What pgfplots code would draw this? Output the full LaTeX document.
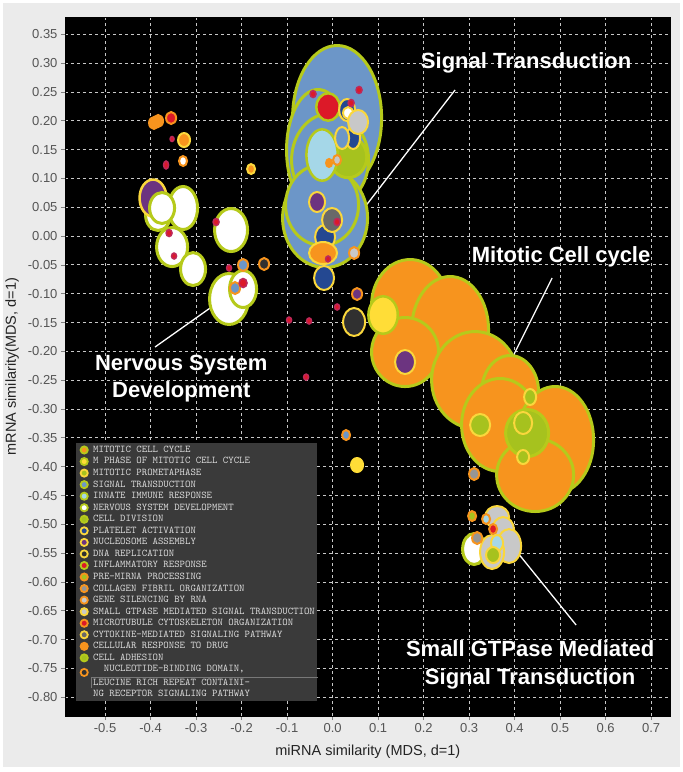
\documentclass[border=0pt]{standalone}
\usepackage{pgfplots}
\pgfplotsset{compat=1.18}
\usepackage{fontspec}
\setmainfont{Liberation Sans}

\definecolor{bgcol}{RGB}{235,235,235}
\definecolor{corange}{RGB}{247,148,30}
\definecolor{cygreen}{RGB}{182,202,27}
\definecolor{cgreenfill}{RGB}{166,194,30}
\definecolor{cyellow}{RGB}{255,221,55}
\definecolor{cyedge}{RGB}{250,215,60}
\definecolor{cblue}{RGB}{108,150,200}
\definecolor{clblue}{RGB}{165,215,232}
\definecolor{cdblue}{RGB}{36,72,145}
\definecolor{cpurple}{RGB}{108,52,128}
\definecolor{cdgray}{RGB}{48,48,48}
\definecolor{cred}{RGB}{220,25,40}
\definecolor{cpink}{RGB}{190,40,90}
\definecolor{cgray}{RGB}{150,150,150}
\definecolor{clgray}{RGB}{200,200,200}
\definecolor{cmgray}{RGB}{105,105,105}
\definecolor{legbg}{RGB}{58,58,58}
\definecolor{legtext}{RGB}{220,220,220}
\definecolor{legline}{RGB}{120,120,120}
\definecolor{gridcol}{RGB}{200,200,200}
\definecolor{ticklab}{RGB}{85,85,85}
\definecolor{labcol}{RGB}{35,35,35}

\pgfdeclareplotmark{bub}{%
  \pgfpathellipse{\pgfpointorigin}{\pgfqpoint{\bubrx pt}{0pt}}{\pgfqpoint{0pt}{\bubry pt}}%
  \pgfusepathqfillstroke}

\pgfplotsset{
  bb/.style n args={3}{scatter, only marks, mark=bub, forget plot,
    visualization depends on={value \thisrow{rx} \as \bubrx},
    visualization depends on={value \thisrow{ry} \as \bubry},
    scatter/use mapped color={draw=#1, fill=#2, line width=#3}},
  lg/.style 2 args={legend image code/.code={%
    \path[draw=none,fill=none] (-5.5pt,-5.775pt) (5.5pt,5.775pt);
    \draw[draw=#1, fill=#2, line width=1.8pt] (0pt,0pt) circle (3.6pt);}},
}

\begin{document}
\begin{tikzpicture}
\fill[white] (0,0) rectangle (683pt,772pt);
\fill[bgcol] (3pt,5pt) rectangle (680pt,769pt);
\begin{axis}[
  at={(65pt,56pt)}, anchor=south west,
  scale only axis, width=605.7pt, height=698.7pt,
  xmin=-0.588, xmax=0.743, ymin=-0.8324, ymax=0.3795,
  axis background/.style={fill=black},
  axis line style={black},
  xtick={-0.5,-0.4,-0.3,-0.2,-0.1,0,0.1,0.2,0.3,0.4,0.5,0.6,0.7},
  ytick={0.35,0.3,0.25,0.2,0.15,0.1,0.05,0,-0.05,-0.1,-0.15,-0.2,-0.25,-0.3,-0.35,-0.4,-0.45,-0.5,-0.55,-0.6,-0.65,-0.7,-0.75,-0.8},
  xtick pos=bottom, ytick pos=left,
  tick align=outside, major tick length=4pt,
  tick style={draw=gray, line width=0.8pt},
  grid=major,
  major grid style={draw=gridcol, dash pattern=on 3pt off 3pt, line width=0.9pt},
  scaled ticks=false,
  /pgf/number format/assume math mode=true,
  xticklabel style={/pgf/number format/.cd, fixed, fixed zerofill, precision=1, assume math mode=true},
  yticklabel style={/pgf/number format/.cd, fixed, fixed zerofill, precision=2, assume math mode=true},
  tick label style={font=\fontsize{13}{13}\selectfont, text=ticklab},
  xlabel={miRNA similarity (MDS, d=1)},
  ylabel={mRNA similarity(MDS, d=1)},
  every axis x label/.style={at={(axis description cs:0.5,-0.0515)}, anchor=center, font=\fontsize{14.5}{15}\selectfont, text=labcol},
  every axis y label/.style={at={(axis description cs:-0.0875,0.5)}, rotate=90, anchor=center, font=\fontsize{14.5}{15}\selectfont, text=labcol},
  legend style={at={(0.01816,0.3907)}, anchor=north west,
    fill=legbg, draw=none,
    font=\ttfamily\fontsize{10.3}{11}\selectfont, text=legtext,
    inner xsep=2.5pt, inner ysep=1pt,
    row sep=0pt, column sep=3.5pt,
    nodes={inner sep=0pt}},
  legend cell align=left,
]

% Signal transduction big
\addplot[bb={cygreen}{cblue}{3pt}] table[row sep=\\]{
x y rx ry\\
0.0099 0.2048 44.5 72.5\\
-0.0319 0.1493 31.5 60.5\\
-0.0055 0.1320 38.5 46.5\\
-0.0165 0.0313 42.5 49.5\\
-0.0231 0.0539 36.5 40.5\\
};
% Mitotic cell cycle big
\addplot[bb={cygreen}{corange}{3pt}] table[row sep=\\]{
x y rx ry\\
0.1703 -0.1196 38.5 45.5\\
0.2582 -0.1629 38.5 53.5\\
0.1593 -0.2011 33.5 34.5\\
0.3132 -0.2497 43.5 48.5\\
0.3901 -0.2705 28.5 36.5\\
0.3681 -0.3277 38.5 46.5\\
0.4890 -0.3537 38.5 53.5\\
0.4451 -0.4144 38.5 36.5\\
};
% cell division
\addplot[bb={cygreen}{cgreenfill}{3pt}] table[row sep=\\]{
x y rx ry\\
0.0341 0.1372 18.7 20.7\\
0.4275 -0.3416 21.5 23.5\\
};
% innate immune
\addplot[bb={cygreen}{clblue}{2.5pt}] table[row sep=\\]{
x y rx ry\\
-0.0231 0.1406 15.7 25.7\\
};
% nervous system A
\addplot[bb={cygreen}{white}{3pt}] table[row sep=\\]{
x y rx ry\\
-0.3286 0.0487 14.5 21.5\\
-0.3835 0.0366 12.5 15.5\\
};
% nucleosome big
\addplot[bb={cyedge}{cpurple}{2.5pt}] table[row sep=\\]{
x y rx ry\\
-0.3945 0.0660 13.5 18.5\\
};
% nervous system B
\addplot[bb={cygreen}{white}{3pt}] table[row sep=\\]{
x y rx ry\\
-0.3747 0.0487 12.5 15.5\\
-0.3527 -0.0190 15.5 19.5\\
-0.3066 -0.0572 12.5 16.5\\
-0.2231 0.0105 16.5 21.5\\
-0.2275 -0.1091 19.5 25.5\\
-0.1967 -0.0918 13.5 18.5\\
0.3110 -0.5428 11.5 15.5\\
};
% inflammatory
\addplot[bb={cygreen}{cred}{2.5pt}] table[row sep=\\]{
x y rx ry\\
-0.0099 0.2239 11.7 13.7\\
};
% platelet activation
\addplot[bb={cyedge}{cdblue}{2pt}] table[row sep=\\]{
x y rx ry\\
0.0319 0.2187 8 11\\
0.0451 0.1701 7 11\\
-0.0165 -0.0016 10 12\\
-0.0187 -0.0727 10 12\\
};
\addplot[bb={cyedge}{cblue}{2pt}] table[row sep=\\]{
x y rx ry\\
0.0209 0.1701 7 11\\
};
\addplot[bb={cyedge}{white}{2pt}] table[row sep=\\]{
x y rx ry\\
0.0341 0.2135 5 6\\
};
% small GTPase
\addplot[bb={cyedge}{clgray}{2pt}] table[row sep=\\]{
x y rx ry\\
0.0560 0.1979 10 12\\
0.3615 -0.4873 12 11\\
0.3747 -0.5099 11 13\\
0.3879 -0.5376 12 17\\
0.3505 -0.5480 12 17\\
};
% cytokine
\addplot[bb={cyedge}{cmgray}{2pt}] table[row sep=\\]{
x y rx ry\\
-0.0011 0.0279 10 12\\
};
% nucleosome small
\addplot[bb={cyedge}{cpurple}{2pt}] table[row sep=\\]{
x y rx ry\\
-0.0341 0.0591 8 10\\
0.1593 -0.2184 10 12\\
};
\addplot[bb={cyedge}{corange}{2pt}] table[row sep=\\]{
x y rx ry\\
-0.0209 -0.0294 14 11\\
-0.3264 0.1666 6 7\\
-0.1791 0.1163 4 5\\
};
% M phase
\addplot[bb={cygreen}{cyellow}{2.5pt}] table[row sep=\\]{
x y rx ry\\
0.1110 -0.1369 14.7 18.7\\
};
\addplot[bb={cyellow}{cyellow}{1pt}] table[row sep=\\]{
x y rx ry\\
0.0538 -0.3971 6.5 7.5\\
};
% DNA replication
\addplot[bb={cyedge}{cdgray}{2pt}] table[row sep=\\]{
x y rx ry\\
0.0473 -0.1490 11 14\\
};
% NLR
\addplot[bb={corange}{cdgray}{2pt}] table[row sep=\\]{
x y rx ry\\
-0.1505 -0.0484 5 6\\
};
% collagen
\addplot[bb={corange}{cgray}{2pt}] table[row sep=\\]{
x y rx ry\\
0.3110 -0.4127 5 6\\
0.3176 -0.5237 5 6\\
};
% gene silencing
\addplot[bb={corange}{clgray}{2pt}] table[row sep=\\]{
x y rx ry\\
0.0099 0.1320 4 5\\
0.0473 -0.0294 5 6\\
};
\addplot[bb={corange}{cblue}{2pt}] table[row sep=\\]{
x y rx ry\\
-0.1967 -0.0502 5 6\\
-0.2143 -0.0901 5 6\\
0.0297 -0.3451 4 5\\
};
\addplot[bb={corange}{cpurple}{2pt}] table[row sep=\\]{
x y rx ry\\
0.0538 -0.1005 5 6\\
};
% cellular response to drug
\addplot[bb={corange}{corange}{2pt}] table[row sep=\\]{
x y rx ry\\
-0.3923 0.1962 5 6\\
-0.3835 0.1996 5 6\\
-0.0077 0.1268 3 4\\
};
% microtubule
\addplot[bb={corange}{cred}{2pt}] table[row sep=\\]{
x y rx ry\\
-0.3549 0.2048 5 6\\
0.3527 -0.5081 4 5\\
};
\addplot[bb={corange}{white}{2pt}] table[row sep=\\]{
x y rx ry\\
-0.3286 0.1302 4 5\\
};
% pre-miRNA
\addplot[bb={corange}{cgreenfill}{2pt}] table[row sep=\\]{
x y rx ry\\
0.3066 -0.4856 4 5\\
};
\addplot[bb={corange}{clblue}{2pt}] table[row sep=\\]{
x y rx ry\\
0.3374 -0.4908 4 5\\
};
\addplot[bb={cyedge}{clblue}{2pt}] table[row sep=\\]{
x y rx ry\\
0.3615 -0.5324 6 8\\
};
% mitotic prometaphase
\addplot[bb={cyedge}{cgreenfill}{2pt}] table[row sep=\\]{
x y rx ry\\
0.3242 -0.3277 10 11\\
0.4341 -0.2791 6 8\\
0.4187 -0.3242 9 11\\
0.4187 -0.3832 6 7\\
0.3527 -0.5532 7 8\\
};
% inflammatory small
\addplot[bb={cpink}{cred}{1.5pt}] table[row sep=\\]{
x y rx ry\\
-0.0429 0.2464 3 3.5\\
0.0582 0.2534 3 3.5\\
0.0407 0.2308 3 3.5\\
-0.2560 0.0244 3 3.5\\
-0.3593 0.0053 3 3.5\\
-0.3484 -0.0346 2.5 3\\
-0.2275 -0.0554 2.5 3\\
-0.1967 -0.0814 4 4.5\\
-0.0956 -0.1456 2.5 3\\
-0.0516 -0.1473 2.5 3\\
0.0099 -0.1230 2.5 3\\
-0.0582 -0.2445 2.5 3\\
0.0099 0.0244 3 3.5\\
-0.0099 -0.0397 2.5 3\\
-0.3527 0.1684 2 2.5\\
-0.3659 0.1233 2.5 4\\
};

% pointer lines
\addplot[white, line width=1.3pt, forget plot] coordinates {(0.2692,0.2534) (0.0626,0.0418)};
\addplot[white, line width=1.3pt, forget plot] coordinates {(0.4824,-0.0727) (0.3967,-0.2080)};
\addplot[white, line width=1.3pt, forget plot] coordinates {(-0.3901,-0.1924) (-0.2692,-0.1248)};
\addplot[white, line width=1.3pt, forget plot] coordinates {(0.4055,-0.5480) (0.5352,-0.6746)};

\node[text=white, font=\bfseries\fontsize{22}{27}\selectfont] at (axis cs:0.4253,0.3002) {Signal Transduction};
\node[text=white, font=\bfseries\fontsize{22}{27}\selectfont] at (axis cs:0.5022,-0.0363) {Mitotic Cell cycle};
\node[text=white, align=center, font=\bfseries\fontsize{22}{27}\selectfont] at (axis cs:-0.3325,-0.2471) {Nervous System\\Development};
\node[text=white, align=center, font=\bfseries\fontsize{22}{28}\selectfont] at (axis cs:0.4341,-0.7440) {Small GTPase Mediated\\Signal Transduction};

% legend
\addlegendimage{lg={cygreen}{corange}}\addlegendentry{MITOTIC CELL CYCLE}
\addlegendimage{lg={cygreen}{cyellow}}\addlegendentry{M PHASE OF MITOTIC CELL CYCLE}
\addlegendimage{lg={cyedge}{cgreenfill}}\addlegendentry{MITOTIC PROMETAPHASE}
\addlegendimage{lg={cygreen}{cblue}}\addlegendentry{SIGNAL TRANSDUCTION}
\addlegendimage{lg={cygreen}{clblue}}\addlegendentry{INNATE IMMUNE RESPONSE}
\addlegendimage{lg={cygreen}{white}}\addlegendentry{NERVOUS SYSTEM DEVELOPMENT}
\addlegendimage{lg={cygreen}{cgreenfill}}\addlegendentry{CELL DIVISION}
\addlegendimage{lg={cyedge}{cdblue}}\addlegendentry{PLATELET ACTIVATION}
\addlegendimage{lg={cyedge}{cpurple}}\addlegendentry{NUCLEOSOME ASSEMBLY}
\addlegendimage{lg={cyedge}{cdgray}}\addlegendentry{DNA REPLICATION}
\addlegendimage{lg={cygreen}{cred}}\addlegendentry{INFLAMMATORY RESPONSE}
\addlegendimage{lg={corange}{cgreenfill}}\addlegendentry{PRE-MIRNA PROCESSING}
\addlegendimage{lg={corange}{cgray}}\addlegendentry{COLLAGEN FIBRIL ORGANIZATION}
\addlegendimage{lg={corange}{clgray}}\addlegendentry{GENE SILENCING BY RNA}
\addlegendimage{lg={cyedge}{clgray}}\addlegendentry{SMALL GTPASE MEDIATED SIGNAL TRANSDUCTION}
\addlegendimage{lg={corange}{cred}}\addlegendentry{MICROTUBULE CYTOSKELETON ORGANIZATION}
\addlegendimage{lg={cyedge}{cmgray}}\addlegendentry{CYTOKINE-MEDIATED SIGNALING PATHWAY}
\addlegendimage{lg={corange}{corange}}\addlegendentry{CELLULAR RESPONSE TO DRUG}
\addlegendimage{lg={cygreen}{cgreenfill}}\addlegendentry{CELL ADHESION}
\addlegendimage{legend image code/.code={%
    \path[draw=none,fill=none] (-5.5pt,-5.775pt) (5.5pt,5.775pt);
    \draw[draw=corange, fill=cdgray, line width=1.8pt] (0pt,-3pt) circle (3.6pt);}}
\addlegendentry{\hspace*{10.8pt}NUCLEOTIDE-BINDING DOMAIN,}
\addlegendimage{legend image code/.code={%
    \path[draw=none,fill=none] (-5.5pt,-5.775pt) (5.5pt,5.775pt);
    \draw[overlay, legline, line width=0.6pt] (7.5pt,5.775pt) -- (234pt,5.775pt);
    \draw[overlay, legline, line width=0.6pt] (7.5pt,5.775pt) -- (7.5pt,-5pt);}}
\addlegendentry{LEUCINE RICH REPEAT CONTAINI-}
\addlegendimage{legend image code/.code={%
    \path[draw=none,fill=none] (-5.5pt,-5.775pt) (5.5pt,5.775pt);}}
\addlegendentry{NG RECEPTOR SIGNALING PATHWAY}
\end{axis}
\end{tikzpicture}
\end{document}
